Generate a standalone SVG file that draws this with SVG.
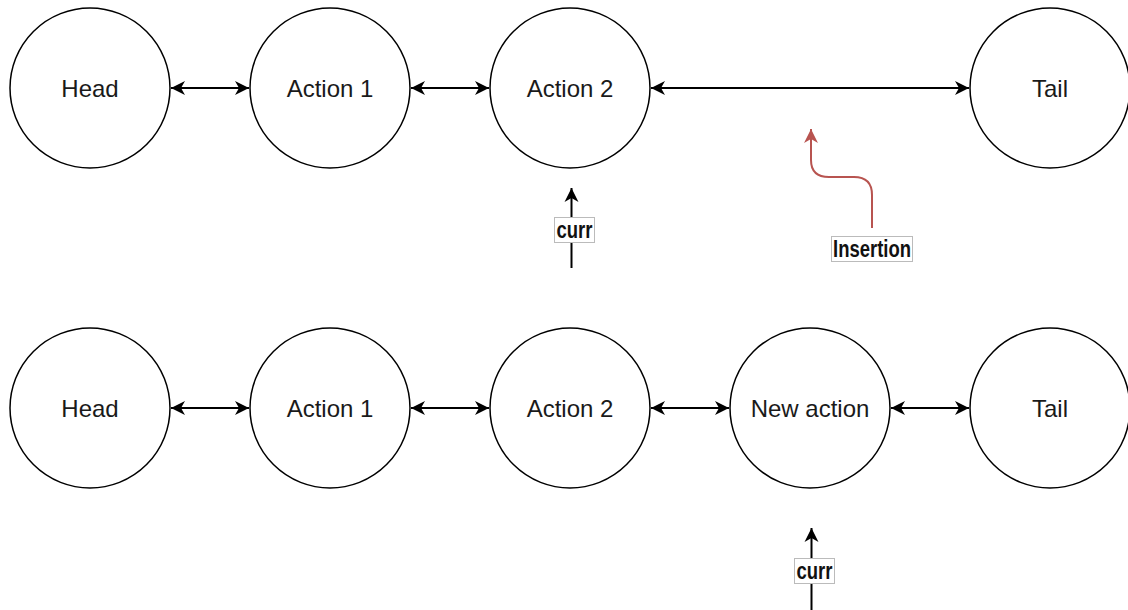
<svg xmlns="http://www.w3.org/2000/svg" width="1128" height="610" viewBox="0 0 1128 610">
<style>
.node{fill:#fff;stroke:#000;stroke-width:1.5}
.ntext{font-family:"Liberation Sans",Arial,sans-serif;font-size:24px;fill:#1a1a1a;text-anchor:middle;dominant-baseline:central}
.edge{fill:none;stroke:#000;stroke-width:2}
.red{fill:none;stroke:#b85450;stroke-width:2}
.lbox{fill:#fff;stroke:#bbb;stroke-width:1}
.ltext{font-family:"Liberation Sans",Arial,sans-serif;font-size:23px;font-weight:bold;fill:#111;text-anchor:middle;dominant-baseline:central}
</style>
<defs>
<marker id="ah" markerUnits="userSpaceOnUse" markerWidth="16" markerHeight="16" viewBox="-15 -8 16 16" refX="0" refY="0" orient="auto-start-reverse">
<path d="M0,0 L-14,-7 L-10,0 L-14,7 Z" fill="#000"/>
</marker>
<marker id="ahr" markerUnits="userSpaceOnUse" markerWidth="16" markerHeight="16" viewBox="-15 -8 16 16" refX="0" refY="0" orient="auto-start-reverse">
<path d="M0,0 L-14,-7 L-10,0 L-14,7 Z" fill="#b85450"/>
</marker>
</defs>
<g id="head-top"><circle class="node" cx="90" cy="88" r="80"/><text class="ntext" x="90" y="88">Head</text></g>
<g id="action1-top"><circle class="node" cx="330" cy="88" r="80"/><text class="ntext" x="330" y="88">Action 1</text></g>
<g id="action2-top"><circle class="node" cx="570" cy="88" r="80"/><text class="ntext" x="570" y="88">Action 2</text></g>
<g id="tail-top"><circle class="node" cx="1050" cy="88" r="80"/><text class="ntext" x="1050" y="88">Tail</text></g>
<g id="head-bottom"><circle class="node" cx="90" cy="408" r="80"/><text class="ntext" x="90" y="408">Head</text></g>
<g id="action1-bottom"><circle class="node" cx="330" cy="408" r="80"/><text class="ntext" x="330" y="408">Action 1</text></g>
<g id="action2-bottom"><circle class="node" cx="570" cy="408" r="80"/><text class="ntext" x="570" y="408">Action 2</text></g>
<g id="newaction-bottom"><circle class="node" cx="810" cy="408" r="80"/><text class="ntext" x="810" y="408">New action</text></g>
<g id="tail-bottom"><circle class="node" cx="1050" cy="408" r="80"/><text class="ntext" x="1050" y="408">Tail</text></g>
<g id="connectors">
<line class="edge" x1="171" y1="88" x2="249" y2="88" marker-start="url(#ah)" marker-end="url(#ah)"/>
<line class="edge" x1="411" y1="88" x2="489" y2="88" marker-start="url(#ah)" marker-end="url(#ah)"/>
<line class="edge" x1="651" y1="88" x2="969" y2="88" marker-start="url(#ah)" marker-end="url(#ah)"/>
<line class="edge" x1="171" y1="408" x2="249" y2="408" marker-start="url(#ah)" marker-end="url(#ah)"/>
<line class="edge" x1="411" y1="408" x2="489" y2="408" marker-start="url(#ah)" marker-end="url(#ah)"/>
<line class="edge" x1="651" y1="408" x2="729" y2="408" marker-start="url(#ah)" marker-end="url(#ah)"/>
<line class="edge" x1="891" y1="408" x2="969" y2="408" marker-start="url(#ah)" marker-end="url(#ah)"/>
<line class="edge" x1="571.5" y1="268" x2="571.5" y2="188" marker-end="url(#ah)"/>
<line class="edge" x1="811.5" y1="610" x2="811.5" y2="528" marker-end="url(#ah)"/>
<path class="red" d="M872,228 L872,195 Q872,177 854,177 L829,177 Q811,177 811,160 L811,129" marker-end="url(#ahr)"/>
</g>
<g id="label-curr-top">
<rect class="lbox" x="554.5" y="217.5" width="40" height="25"/>
<text class="ltext" x="574.5" y="230" textLength="36" lengthAdjust="spacingAndGlyphs">curr</text>
</g>
<g id="label-curr-bottom">
<rect class="lbox" x="794.5" y="558.5" width="40" height="25"/>
<text class="ltext" x="814.5" y="571" textLength="36" lengthAdjust="spacingAndGlyphs">curr</text>
</g>
<g id="label-insertion">
<rect class="lbox" x="831.5" y="236.5" width="81" height="25"/>
<text class="ltext" x="872" y="249" textLength="78" lengthAdjust="spacingAndGlyphs">Insertion</text>
</g>
</svg>
